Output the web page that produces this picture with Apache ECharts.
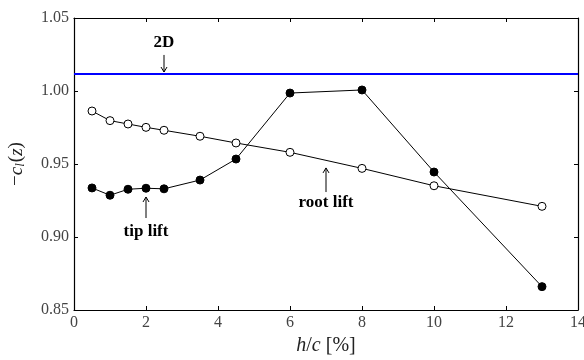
<!DOCTYPE html>
<html>
<head>
<meta charset="utf-8">
<script src="https://cdn.jsdelivr.net/npm/echarts@6/dist/echarts.min.js"></script>
<style>html,body{margin:0;padding:0;background:#fff;}#c{width:584px;height:360px;}</style>
</head>
<body>
<div id="c"></div>
<script>
// Data
var hc = [0.5, 1, 1.5, 2, 2.5, 3.5, 4.5, 6, 8, 10, 13];
var tipLift = [0.9336, 0.9286, 0.9327, 0.9334, 0.9330, 0.9390, 0.9534, 0.9986, 1.0007, 0.9445, 0.8660];
var rootLift = [0.9863, 0.9797, 0.9774, 0.9751, 0.9731, 0.9690, 0.9644, 0.9580, 0.9470, 0.9351, 0.9210];
var twoD = 1.0116;
var xTicks = [0, 2, 4, 6, 8, 10, 12, 14];
var yTicks = [0.85, 0.90, 0.95, 1.00, 1.05];
// annotations: label, x, text y, arrow tail y, arrow tip y (data units)
var annLabels = ['2D', 'tip lift', 'root lift'];
var annX = [2.5, 2, 7];
var annTextY = [1.0329, 0.9034, 0.9233];
var annTailY = [1.0247, 0.9130, 0.9308];
var annTipY = [1.0130, 0.9274, 0.9473];

var FONT = '"Liberation Serif", "DejaVu Serif", serif';
var chart = echarts.init(document.getElementById('c'));

function zip(a, b) { return a.map(function (v, i) { return [v, b[i]]; }); }

var axisLineStyle = { color: '#000', width: 1.2 };
var baseX = {
  type: 'value', min: xTicks[0], max: xTicks[xTicks.length - 1], interval: 2,
  axisLine: { show: true, onZero: false, lineStyle: axisLineStyle },
  axisTick: { show: true, inside: true, length: 4, lineStyle: { color: '#000', width: 1 } },
  splitLine: { show: false }
};
var baseY = {
  type: 'value', min: yTicks[0], max: yTicks[yTicks.length - 1], interval: 0.05,
  axisLine: { show: true, onZero: false, lineStyle: axisLineStyle },
  axisTick: { show: true, inside: true, length: 4, lineStyle: { color: '#000', width: 1 } },
  splitLine: { show: false }
};

var option = {
  animation: false,
  backgroundColor: '#fff',
  grid: { left: 74, right: 6, top: 18, bottom: 50, containLabel: false, outerBoundsMode: 'none' },
  xAxis: [
    Object.assign({}, baseX, {
      position: 'bottom',
      axisLabel: { show: true, margin: 5, color: '#444', fontFamily: FONT, fontSize: 16,
        formatter: function (v) { return String(v); } },
      name: '{i|h}/{i|c} [%]', nameLocation: 'middle', nameGap: 26,
      nameTextStyle: { fontFamily: FONT, fontSize: 20, color: '#222',
        rich: { i: { fontFamily: FONT, fontSize: 20, fontStyle: 'italic', color: '#222' } } }
    }),
    Object.assign({}, baseX, { position: 'top', axisLabel: { show: false } })
  ],
  yAxis: [
    Object.assign({}, baseY, {
      position: 'left',
      axisLabel: { show: true, margin: 5, color: '#444', fontFamily: FONT, fontSize: 16,
        formatter: function (v) { return v.toFixed(2); } },
      name: '−{i|c}{s|l}({i|z})', nameLocation: 'middle', nameGap: 47, nameRotate: 90,
      nameTextStyle: { fontFamily: FONT, fontSize: 19, color: '#222',
        rich: {
          i: { fontFamily: FONT, fontSize: 19, fontStyle: 'italic', color: '#222' },
          s: { fontFamily: FONT, fontSize: 13, fontStyle: 'italic', color: '#222', padding: [8, 1, 0, 0] }
        } }
    }),
    Object.assign({}, baseY, { position: 'right', axisLabel: { show: false } })
  ],
  series: [
    {
      name: '2D', type: 'line', data: [[xTicks[0], twoD], [xTicks[xTicks.length - 1], twoD]],
      showSymbol: false, symbol: 'none', lineStyle: { color: '#0000ff', width: 2 }, z: 1
    },
    {
      name: 'root lift', type: 'line', data: zip(hc, rootLift),
      symbol: 'circle', symbolSize: 8,
      itemStyle: { color: '#fff', borderColor: '#000', borderWidth: 1 },
      lineStyle: { color: '#000', width: 1 }, z: 3
    },
    {
      name: 'tip lift', type: 'line', data: zip(hc, tipLift),
      symbol: 'circle', symbolSize: 8,
      itemStyle: { color: '#000', borderColor: '#000', borderWidth: 1 },
      lineStyle: { color: '#000', width: 1 }, z: 4
    }
  ]
};
chart.setOption(option);

// annotations positioned through the axes
var g = [];
for (var i = 0; i < annLabels.length; i++) {
  var pt = chart.convertToPixel({ gridIndex: 0 }, [annX[i], annTextY[i]]);
  var tail = chart.convertToPixel({ gridIndex: 0 }, [annX[i], annTailY[i]]);
  var tip = chart.convertToPixel({ gridIndex: 0 }, [annX[i], annTipY[i]]);
  g.push({
    type: 'text', x: pt[0], y: pt[1],
    style: { text: annLabels[i], fontFamily: FONT, fontSize: 17, fontWeight: 'bold',
      fill: '#000', align: 'center', verticalAlign: 'middle' }, z: 10
  });
  g.push({
    type: 'line', shape: { x1: tail[0], y1: tail[1], x2: tip[0], y2: tip[1] },
    style: { stroke: '#000', lineWidth: 1 }, z: 10
  });
  var dir = tip[1] > tail[1] ? -1 : 1; // head opens away from tip
  g.push({
    type: 'polyline', shape: { points: [[tip[0] - 3, tip[1] + dir * 5], [tip[0], tip[1]], [tip[0] + 3, tip[1] + dir * 5]] },
    style: { stroke: '#000', lineWidth: 1, fill: null }, z: 10
  });
}
chart.setOption({ graphic: g });
</script>
</body>
</html>
